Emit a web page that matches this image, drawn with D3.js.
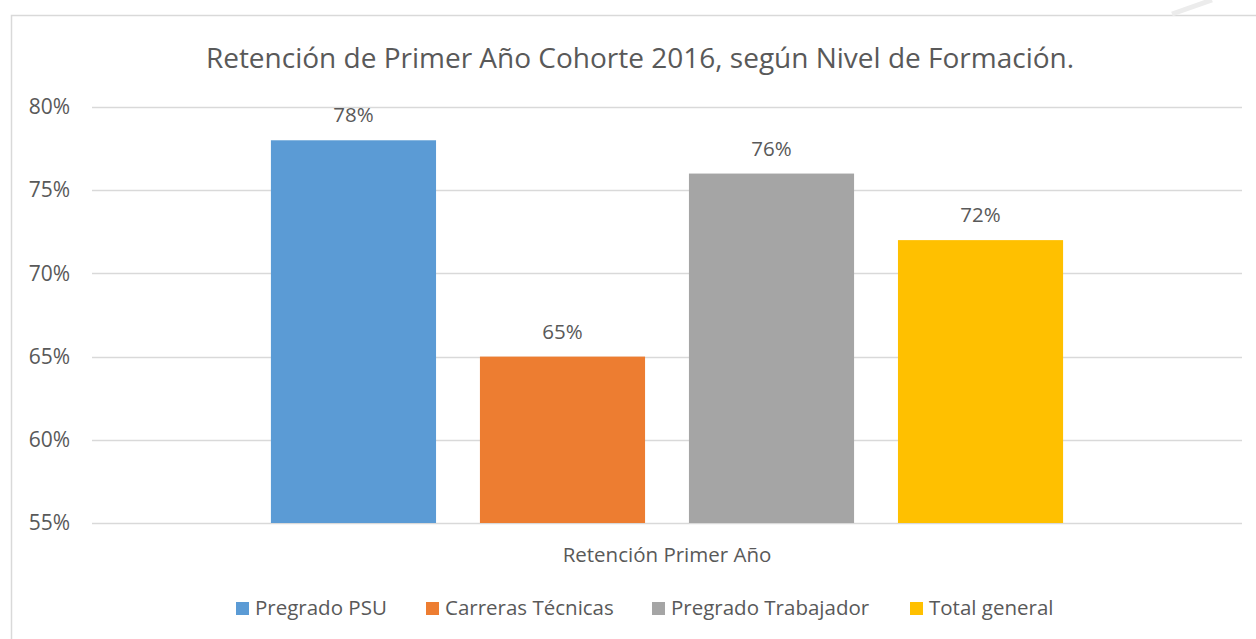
<!DOCTYPE html>
<html>
<head>
<meta charset="utf-8">
<script src="https://cdn.jsdelivr.net/npm/d3@7"></script>
<style>
  body { margin: 0; background: #fff; }
  text { font-family: "Open Sans", "Noto Sans", sans-serif; fill: #595959; }
</style>
</head>
<body>
<svg id="chart" width="1256" height="639"></svg>
<script>
var categories = ["Retención Primer Año"];
var series = ["Pregrado PSU", "Carreras Técnicas", "Pregrado Trabajador", "Total general"];
var values = [0.78, 0.65, 0.76, 0.72];
var colors = ["#5B9BD5", "#ED7D31", "#A5A5A5", "#FFC000"];
var yTicks = [0.55, 0.60, 0.65, 0.70, 0.75, 0.80];

var svg = d3.select("#chart"),
  margin = {top: 107, right: 14, bottom: 116, left: 92},
  width = 1256 - margin.left - margin.right,
  height = 639 - margin.top - margin.bottom,
  pct = d3.format(".0%");

// chart border
svg.append("rect")
  .attr("x", 11.5).attr("y", 15.5)
  .attr("width", 1260).attr("height", 640)
  .attr("fill", "none")
  .attr("stroke", "#d9d9d9")
  .attr("stroke-width", 1.5);

// faint stroke in the top right corner
svg.append("line")
  .attr("x1", 1172).attr("y1", 14)
  .attr("x2", 1212).attr("y2", 0)
  .attr("stroke", "#ececec")
  .attr("stroke-width", 5);

svg.append("text")
  .attr("x", 640).attr("y", 68)
  .attr("text-anchor", "middle")
  .style("font-size", "28px")
  .text("Retención de Primer Año Cohorte 2016, según Nivel de Formación.");

var g = svg.append("g")
  .attr("transform", "translate(" + margin.left + "," + margin.top + ")");

var y = d3.scaleLinear().domain([0.55, 0.80]).range([height, 0]);

var x0 = d3.scaleBand().domain(categories).range([0, width]);
var x1 = d3.scaleBand().domain(series)
  .range([0, x0.bandwidth()])
  .paddingInner(0.21)
  .paddingOuter(0.856);

// gridlines
g.append("g")
  .selectAll("line")
  .data(yTicks)
  .join("line")
  .attr("x1", 0).attr("x2", width)
  .attr("y1", function(d) { return Math.round(y(d)) + 0.5; })
  .attr("y2", function(d) { return Math.round(y(d)) + 0.5; })
  .attr("stroke", "#d9d9d9")
  .attr("stroke-width", 1.5);

// y axis labels
var yAxis = d3.axisLeft(y).tickValues(yTicks).tickFormat(pct).tickSize(0).tickPadding(22);
g.append("g")
  .call(yAxis)
  .call(function(s) { s.select(".domain").remove(); })
  .selectAll("text")
  .style("font-size", "21px")
  .attr("fill", "#595959");

var group = g.selectAll(".cat")
  .data(categories)
  .join("g")
  .attr("class", "cat")
  .attr("transform", function(d) { return "translate(" + x0(d) + ",0)"; });

var rows = series.map(function(s, i) { return {name: s, value: values[i], color: colors[i]}; });

group.selectAll("rect")
  .data(rows)
  .join("rect")
  .attr("x", function(d) { return x1(d.name); })
  .attr("y", function(d) { return y(d.value); })
  .attr("width", x1.bandwidth())
  .attr("height", function(d) { return height - y(d.value); })
  .attr("fill", function(d) { return d.color; });

group.selectAll(".lbl")
  .data(rows)
  .join("text")
  .attr("class", "lbl")
  .attr("x", function(d) { return x1(d.name) + x1.bandwidth() / 2; })
  .attr("y", function(d) { return y(d.value) - 18; })
  .attr("text-anchor", "middle")
  .style("font-size", "20.5px")
  .text(function(d) { return pct(d.value); });

// category axis label
g.append("text")
  .attr("x", x0(categories[0]) + x0.bandwidth() / 2)
  .attr("y", height + 39)
  .attr("text-anchor", "middle")
  .style("font-size", "20.5px")
  .text(categories[0]);

// legend
var legend = svg.append("g").attr("transform", "translate(0,602)");
var lx = [236, 426, 652, 910];
var items = legend.selectAll("g")
  .data(rows)
  .join("g")
  .attr("transform", function(d, i) { return "translate(" + lx[i] + ",0)"; });
items.append("rect")
  .attr("x", 0).attr("y", 0)
  .attr("width", 13).attr("height", 13)
  .attr("fill", function(d) { return d.color; });
items.append("text")
  .attr("x", 19).attr("y", 13)
  .style("font-size", "20.5px")
  .text(function(d) { return d.name; });
</script>
</body>
</html>
